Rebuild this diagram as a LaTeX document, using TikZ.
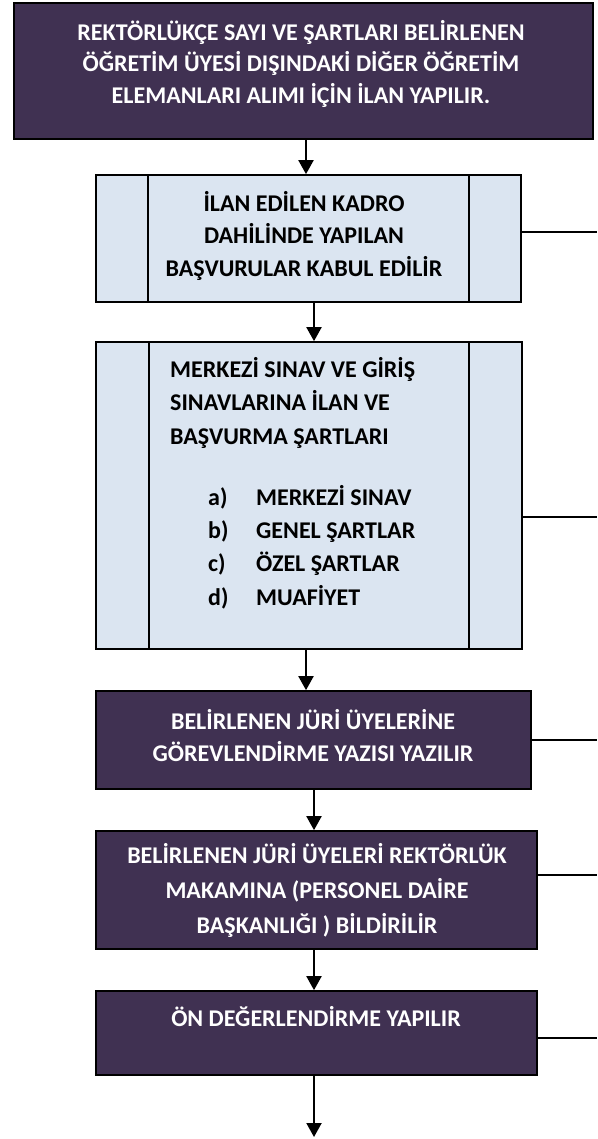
\documentclass[tikz,border=0pt]{standalone}
\usepackage{fontspec}
\setmainfont{Carlito}
\usetikzlibrary{arrows.meta}

\definecolor{stepdark}{HTML}{403152}
\definecolor{steplight}{HTML}{DBE5F1}

\tikzset{
  darkbox/.style={draw=black, line width=1.7pt, fill=stepdark, inner sep=0pt},
  lightbox/.style={draw=black, line width=1.7pt, fill=steplight, inner sep=0pt},
  sidebar/.style={draw=black, line width=1.4pt},
  darktext/.style={text=white, font=\bfseries\fontsize{24}{31.5}\selectfont, align=center, inner sep=0pt},
  lighttext/.style={text=black, font=\bfseries\fontsize{24}{32.5}\selectfont, align=center, inner sep=0pt},
  flow/.style={line width=2pt, -{Triangle[length=14pt,width=15pt]}},
  tap/.style={line width=1.5pt},
}

\begin{document}
\begin{tikzpicture}[x=1pt,y=-1pt]
\useasboundingbox (0,0) rectangle (597,1139);

% boxes
\node[darkbox, minimum width=579pt, minimum height=136pt] (b1) at (303.5,71) {};
\node[lightbox, minimum width=425pt, minimum height=127pt] (b2) at (308.5,238.5) {};
\node[lightbox, minimum width=426pt, minimum height=307pt] (b3) at (309,495.5) {};
\node[darkbox, minimum width=435pt, minimum height=98pt] (b4) at (313.5,740) {};
\node[darkbox, minimum width=441pt, minimum height=118pt] (b5) at (316.5,890) {};
\node[darkbox, minimum width=441pt, minimum height=84pt] (b6) at (316.5,1033) {};

% inner bars of the predefined-process boxes
\draw[sidebar] ([xshift=53pt]b2.north west) -- ([xshift=53pt]b2.south west);
\draw[sidebar] ([xshift=-53pt]b2.north east) -- ([xshift=-53pt]b2.south east);
\draw[sidebar] ([xshift=54pt]b3.north west) -- ([xshift=54pt]b3.south west);
\draw[sidebar] ([xshift=-54pt]b3.north east) -- ([xshift=-54pt]b3.south east);

% texts
\node[darktext] (t1) at (301,63.5) {REKTÖRLÜKÇE SAYI VE ŞARTLARI BELİRLENEN\\ÖĞRETİM ÜYESİ DIŞINDAKİ DİĞER ÖĞRETİM\\ELEMANLARI ALIMI İÇİN İLAN YAPILIR.};
\node[lighttext] (t2) at (304,235.5) {İLAN EDİLEN KADRO\\DAHİLİNDE YAPILAN\\BAŞVURULAR KABUL EDİLİR};
\node[lighttext, align=left, anchor=west, font=\bfseries\fontsize{24}{33.5}\selectfont] (t3) at (170,402.5) {MERKEZİ SINAV VE GİRİŞ\\SINAVLARINA İLAN VE\\BAŞVURMA ŞARTLARI};
\node[lighttext, align=left, anchor=west, font=\bfseries\fontsize{24}{33.3}\selectfont] (t3l) at (208,547) {\makebox[48pt][l]{a)}MERKEZİ SINAV\\\makebox[48pt][l]{b)}GENEL ŞARTLAR\\\makebox[48pt][l]{c)}ÖZEL ŞARTLAR\\\makebox[48pt][l]{d)}MUAFİYET};
\node[darktext, font=\bfseries\fontsize{24}{32}\selectfont] (t4) at (313,736) {BELİRLENEN JÜRİ ÜYELERİNE\\GÖREVLENDİRME YAZISI YAZILIR};
\node[darktext, font=\bfseries\fontsize{24}{35}\selectfont] (t5) at (317,890) {BELİRLENEN JÜRİ ÜYELERİ REKTÖRLÜK\\MAKAMINA (PERSONEL DAİRE\\BAŞKANLIĞI ) BİLDİRİLİR};
\node[darktext] (t6) at (316,1017) {ÖN DEĞERLENDİRME YAPILIR};

% flow arrows
\coordinate (end) at (314,1137);
\draw[flow] (b1.south -| 306,0) -- (b2.north -| 306,0);
\draw[flow] (b2.south -| 314,0) -- (b3.north -| 314,0);
\draw[flow] (b3.south -| 306,0) -- (b4.north -| 306,0);
\draw[flow] (b4.south -| 314,0) -- (b5.north -| 314,0);
\draw[flow] (b5.south -| 314,0) -- (b6.north -| 314,0);
\draw[flow] (b6.south -| end) -- (end);

% side taps leaving to the right
\coordinate (r2) at (597,232);
\coordinate (r3) at (597,517);
\coordinate (r4) at (597,740);
\coordinate (r5) at (597,875);
\coordinate (r6) at (597,1038);
\draw[tap] (b2.east |- r2) -- (r2);
\draw[tap] (b3.east |- r3) -- (r3);
\draw[tap] (b4.east |- r4) -- (r4);
\draw[tap] (b5.east |- r5) -- (r5);
\draw[tap] (b6.east |- r6) -- (r6);
\end{tikzpicture}
\end{document}
